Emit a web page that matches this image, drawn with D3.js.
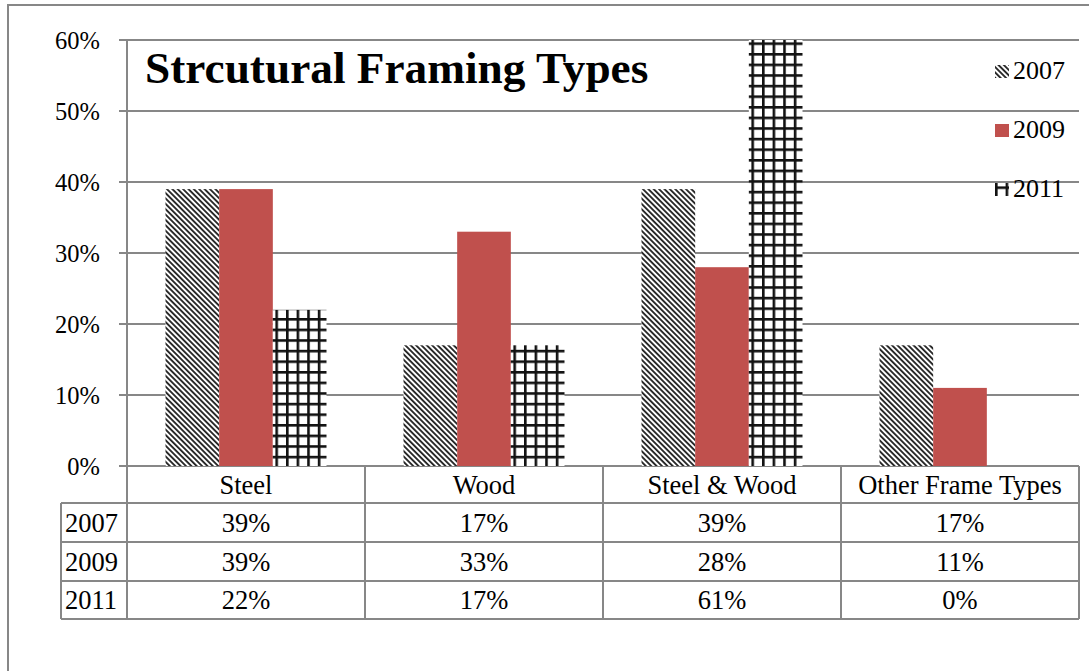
<!DOCTYPE html>
<html>
<head>
<meta charset="utf-8">
<script src="https://cdn.jsdelivr.net/npm/d3@7/dist/d3.min.js"></script>
<style>
  html, body { margin: 0; padding: 0; background: #fff; }
  svg { display: block; }
  text { font-family: "Liberation Serif", "Times New Roman", serif; fill: #000; }
</style>
</head>
<body>
<svg id="chart" width="1089" height="671"></svg>
<script>
// Structural framing types by survey year (percent of buildings)
const categories = ["Steel", "Wood", "Steel & Wood", "Other Frame Types"];
const years = ["2007", "2009", "2011"];
const values2007 = [39, 17, 39, 17];
const values2009 = [39, 33, 28, 11];
const values2011 = [22, 17, 61, 0];
const yTicks = [0, 10, 20, 30, 40, 50, 60];
const chartTitle = "Strcutural Framing Types";

const seriesValues = { "2007": values2007, "2009": values2009, "2011": values2011 };
const fills = { "2007": "url(#diag)", "2009": "#C0504D", "2011": "url(#grid)" };

const svg = d3.select("#chart");
const W = 1089, H = 671;
const plotLeft = 127, plotRight = 1079, plotTop = 40, plotBase = 466;
const gridColor = "#878787";
const tableFont = 26.5;

// Patterns
const defs = svg.append("defs");
const diag = defs.append("pattern")
  .attr("id", "diag").attr("patternUnits", "userSpaceOnUse")
  .attr("width", 3.8).attr("height", 10)
  .attr("patternTransform", "rotate(-45)");
diag.append("rect").attr("width", 3.8).attr("height", 10).attr("fill", "#fff");
diag.append("rect").attr("width", 1.9).attr("height", 10).attr("fill", "#2a2a2a");

const grid = defs.append("pattern")
  .attr("id", "grid").attr("patternUnits", "userSpaceOnUse")
  .attr("width", 10.6).attr("height", 10.6);
grid.append("rect").attr("width", 10.6).attr("height", 10.6).attr("fill", "#fff");
grid.append("rect").attr("x", 0).attr("y", 0).attr("width", 2.6).attr("height", 10.6).attr("fill", "#111");
grid.append("rect").attr("x", 0).attr("y", 0).attr("width", 10.6).attr("height", 2.6).attr("fill", "#111");

// Outer frame
svg.append("path")
  .attr("d", `M8,${H + 2} L8,5 L${W + 2},5`)
  .attr("fill", "none").attr("stroke", gridColor).attr("stroke-width", 2);

// Scales
const x0 = d3.scaleBand().domain(categories).range([plotLeft, plotRight]).padding(0);
const groupPad = 38.5;
const x1 = d3.scaleBand().domain(years).range([groupPad, x0.bandwidth() - groupPad]).padding(0);
const y = d3.scaleLinear().domain([0, 60]).range([plotBase, plotTop]).clamp(true);

// Gridlines and y labels
const yAxis = svg.append("g");
yAxis.selectAll("line.grid").data(yTicks).join("line")
  .attr("class", "grid")
  .attr("x1", plotLeft - 8).attr("x2", plotRight)
  .attr("y1", d => y(d)).attr("y2", d => y(d))
  .attr("stroke", gridColor).attr("stroke-width", 2);
yAxis.selectAll("text").data(yTicks).join("text")
  .attr("x", 100).attr("y", d => y(d)).attr("dy", "0.35em")
  .attr("text-anchor", "end").attr("font-size", 24.5)
  .text(d => d + "%");

// Bars
const groups = svg.append("g").selectAll("g").data(categories).join("g")
  .attr("transform", c => `translate(${x0(c)},0)`);
groups.selectAll("rect").data((c, i) => years.map(yr => ({ yr, v: seriesValues[yr][i] })))
  .join("rect")
  .attr("x", d => x1(d.yr))
  .attr("width", x1.bandwidth())
  .attr("y", d => y(d.v))
  .attr("height", d => plotBase - y(d.v))
  .attr("fill", d => fills[d.yr]);

// Vertical axis line through header row
svg.append("line")
  .attr("x1", plotLeft).attr("x2", plotLeft).attr("y1", plotTop).attr("y2", 503)
  .attr("stroke", gridColor).attr("stroke-width", 2);

// Data table
const rowLines = [503, 542, 581, 619];
const tableLeft = 61;
const tbl = svg.append("g");
tbl.selectAll("line.h").data(rowLines).join("line")
  .attr("class", "h")
  .attr("x1", tableLeft).attr("x2", plotRight)
  .attr("y1", d => d).attr("y2", d => d)
  .attr("stroke", gridColor).attr("stroke-width", 2);
const vLines = categories.map(c => x0(c)).concat([plotRight]);
tbl.selectAll("line.v").data(vLines).join("line")
  .attr("class", "v")
  .attr("x1", d => d).attr("x2", d => d)
  .attr("y1", plotBase).attr("y2", 619)
  .attr("stroke", gridColor).attr("stroke-width", 2);
tbl.append("line")
  .attr("x1", tableLeft).attr("x2", tableLeft).attr("y1", 503).attr("y2", 619)
  .attr("stroke", gridColor).attr("stroke-width", 2);

tbl.selectAll("text.cat").data(categories).join("text")
  .attr("class", "cat")
  .attr("x", c => x0(c) + x0.bandwidth() / 2).attr("y", (plotBase + 503) / 2).attr("dy", "0.35em")
  .attr("text-anchor", "middle").attr("font-size", tableFont)
  .text(c => c);

years.forEach((yr, r) => {
  const cy = (rowLines[r] + rowLines[r + 1]) / 2;
  tbl.append("text")
    .attr("x", 65).attr("y", cy).attr("dy", "0.35em")
    .attr("font-size", tableFont).text(yr);
  tbl.selectAll(null).data(seriesValues[yr]).join("text")
    .attr("x", (v, i) => x0(categories[i]) + x0.bandwidth() / 2)
    .attr("y", cy).attr("dy", "0.35em")
    .attr("text-anchor", "middle").attr("font-size", tableFont)
    .text(v => v + "%");
});

// Title
svg.append("text")
  .attr("x", 145).attr("y", 83)
  .attr("font-size", 45.3).attr("font-weight", "bold")
  .text(chartTitle);

// Legend
const legendY = [79, 138, 197];
const legend = svg.append("g").selectAll("g").data(years).join("g")
  .attr("transform", (d, i) => `translate(995,${legendY[i]})`);
legend.append("rect")
  .attr("x", 0).attr("y", -14).attr("width", 14).attr("height", 13)
  .attr("fill", d => fills[d]);
legend.append("text")
  .attr("x", 18).attr("y", 0).attr("font-size", 26)
  .text(d => d);
</script>
</body>
</html>
